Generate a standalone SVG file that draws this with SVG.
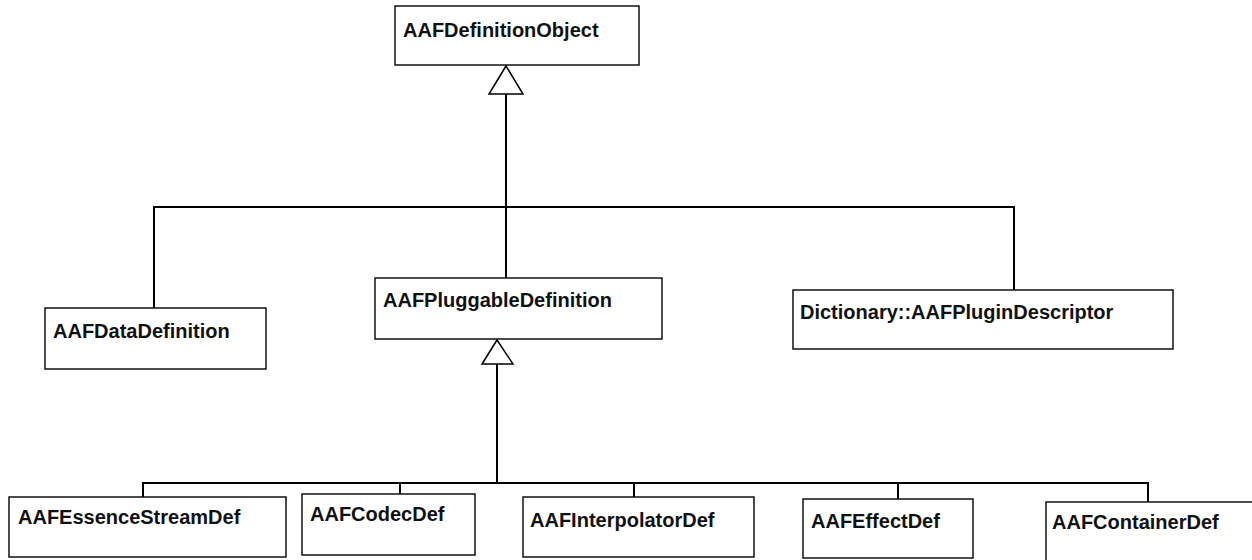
<svg xmlns="http://www.w3.org/2000/svg" width="1252" height="560" viewBox="0 0 1252 560">
  <style>
    .box { fill: #ffffff; stroke: #000000; stroke-width: 1.4; }
    .label { font-family: "Liberation Sans", Arial, sans-serif; font-weight: bold; font-size: 20px; fill: #111111; }
    .wire { fill: none; stroke: #000000; stroke-width: 2; }
    .head { fill: #ffffff; stroke: #000000; stroke-width: 1.5; stroke-linejoin: miter; }
  </style>
  <rect x="0" y="0" width="1252" height="560" fill="#ffffff"/>

  <!-- generalisation connectors -->
  <g id="connectors">
    <!-- AAFDefinitionObject subclasses -->
    <line class="wire" x1="506" y1="94" x2="506" y2="278"/>
    <polyline class="wire" points="154,308 154,207 1014,207 1014,290"/>
    <polygon class="head" points="506,66 489,94 523,94"/>
    <!-- AAFPluggableDefinition subclasses -->
    <line class="wire" x1="497" y1="364" x2="497" y2="483"/>
    <line class="wire" x1="143" y1="483" x2="1148" y2="483"/>
    <line class="wire" x1="143" y1="482" x2="143" y2="497"/>
    <line class="wire" x1="400" y1="482" x2="400" y2="494"/>
    <line class="wire" x1="634" y1="482" x2="634" y2="497"/>
    <line class="wire" x1="898" y1="482" x2="898" y2="499"/>
    <line class="wire" x1="1148" y1="482" x2="1148" y2="502"/>
    <polygon class="head" points="497,340 482,364 513,364"/>
  </g>

  <g id="AAFDefinitionObject">
    <rect class="box" x="395" y="6" width="244" height="59"/>
    <text class="label" x="403" y="37">AAFDefinitionObject</text>
  </g>

  <g id="AAFDataDefinition">
    <rect class="box" x="45" y="308" width="221" height="61"/>
    <text class="label" x="53" y="338">AAFDataDefinition</text>
  </g>

  <g id="AAFPluggableDefinition">
    <rect class="box" x="375" y="278" width="287" height="61"/>
    <text class="label" x="383" y="307">AAFPluggableDefinition</text>
  </g>

  <g id="AAFPluginDescriptor">
    <rect class="box" x="793" y="290" width="380" height="59"/>
    <text class="label" x="800" y="319">Dictionary::AAFPluginDescriptor</text>
  </g>

  <g id="AAFEssenceStreamDef">
    <rect class="box" x="9" y="497" width="277" height="60"/>
    <text class="label" x="18" y="524">AAFEssenceStreamDef</text>
  </g>

  <g id="AAFCodecDef">
    <rect class="box" x="302" y="494" width="173" height="61"/>
    <text class="label" x="310" y="521">AAFCodecDef</text>
  </g>

  <g id="AAFInterpolatorDef">
    <rect class="box" x="523" y="497" width="231" height="60"/>
    <text class="label" x="530" y="527">AAFInterpolatorDef</text>
  </g>

  <g id="AAFEffectDef">
    <rect class="box" x="803" y="499" width="170" height="59"/>
    <text class="label" x="811" y="528">AAFEffectDef</text>
  </g>

  <g id="AAFContainerDef">
    <rect class="box" x="1046" y="502" width="220" height="70"/>
    <text class="label" x="1052" y="529">AAFContainerDef</text>
  </g>
</svg>
